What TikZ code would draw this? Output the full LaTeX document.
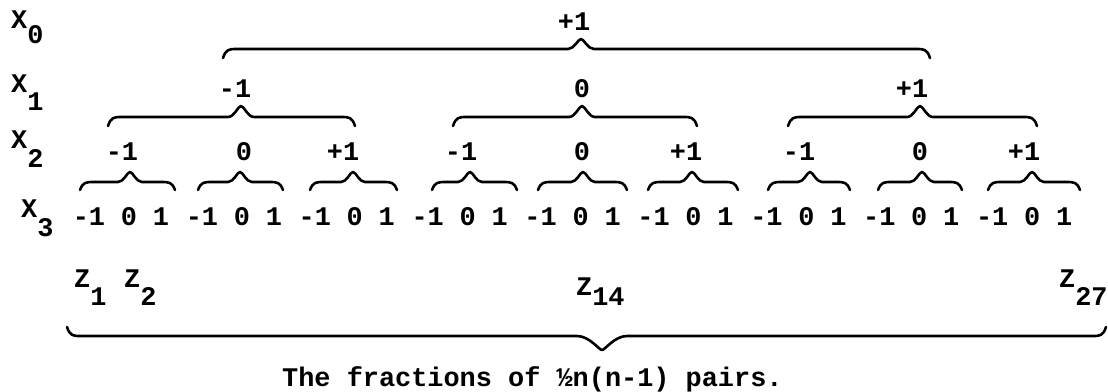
\documentclass[tikz,border=0pt]{standalone}
\usepackage{fontspec}
\setmainfont{Liberation Mono}
\tikzset{
  lab/.style={inner sep=0pt, anchor=base, font=\fontsize{26.9}{30}\selectfont\bfseries},
  labw/.style={lab, anchor=base west},
  bracestyle/.style={line width=2.6pt, line cap=round, line join=round}
}
% x1, x2, tip x, line y, tip y, end y, tip half-width
\newcommand\mybrace[7]{%
  \draw[bracestyle] (#1,#6) .. controls (#1+3,#4) and (#1+6,#4) .. (#1+14,#4)
    -- (#3-#7,#4) .. controls (#3-#7/2,#4) and (#3-3,#5) .. (#3,#5)
    .. controls (#3+3,#5) and (#3+#7/2,#4) .. (#3+#7,#4)
    -- (#2-14,#4) .. controls (#2-6,#4) and (#2-3,#4) .. (#2,#6);}
\begin{document}
\begin{tikzpicture}[x=1pt,y=-1pt]
\useasboundingbox (0,0) rectangle (1108,391);
% row labels
\node[labw] (x0) at (11,28) {X\raisebox{-15pt}{0}};
\node[labw] (x1) at (11,92) {X\raisebox{-18pt}{1}};
\node[labw] (x2) at (11,148) {X\raisebox{-19pt}{2}};
\node[labw] (x3) at (21,217) {X\raisebox{-19pt}{3}};
% X0
\node[lab] (v0) at (574,30) {+1};
\mybrace{223}{930}{581}{49}{39}{58}{13}
% X1
\node[lab] (v1a) at (235,97) {-1};
\node[lab] (v1b) at (582,97) {0};
\node[lab] (v1c) at (912,97) {+1};
\mybrace{108}{355}{241}{117}{106}{126}{13}
\mybrace{453}{697}{582}{117}{106}{126}{13}
\mybrace{788}{1037}{920}{117}{106}{126}{13}
% X2
\node[lab] (v2a) at (122,160) {-1};
\node[lab] (v2b) at (244,160) {0};
\node[lab] (v2c) at (343,160) {+1};
\node[lab] (v2d) at (461,160) {-1};
\node[lab] (v2e) at (582,160) {0};
\node[lab] (v2f) at (686,160) {+1};
\node[lab] (v2g) at (799,160) {-1};
\node[lab] (v2h) at (920,160) {0};
\node[lab] (v2i) at (1024,160) {+1};
\mybrace{80}{175}{130}{182}{172}{190}{12}
\mybrace{198}{283}{240}{182}{172}{190}{12}
\mybrace{310}{397}{353}{182}{172}{190}{12}
\mybrace{432}{517}{470}{182}{172}{190}{12}
\mybrace{538}{627}{583}{182}{172}{190}{12}
\mybrace{648}{738}{692}{182}{172}{190}{12}
\mybrace{768}{850}{810}{182}{172}{190}{12}
\mybrace{878}{962}{922}{182}{172}{190}{12}
\mybrace{988}{1080}{1032}{182}{172}{190}{12}
% X3
\foreach \k in {0,...,8}{
  \pgfmathsetmacro\s{74+112.9*\k}
  \node[lab] (t\k a) at (\s+15,225) {-1};
  \node[lab] (t\k b) at (\s+55,225) {0};
  \node[lab] (t\k c) at (\s+87,225) {1};
}
% Z labels
\node[labw] (z1) at (74,287) {Z\raisebox{-18pt}{1}};
\node[labw] (z2) at (124,287) {Z\raisebox{-18pt}{2}};
\node[labw] (z14) at (576,295) {Z\raisebox{-10pt}{14}};
\node[labw] (z27) at (1059,287) {Z\raisebox{-18pt}{27}};
% bottom brace (pointing down)
\mybrace{67}{1106}{602}{336}{350}{327}{25}
\node[labw] (cap) at (282,386) {The fractions of ½n(n-1) pairs.};
\end{tikzpicture}
\end{document}
